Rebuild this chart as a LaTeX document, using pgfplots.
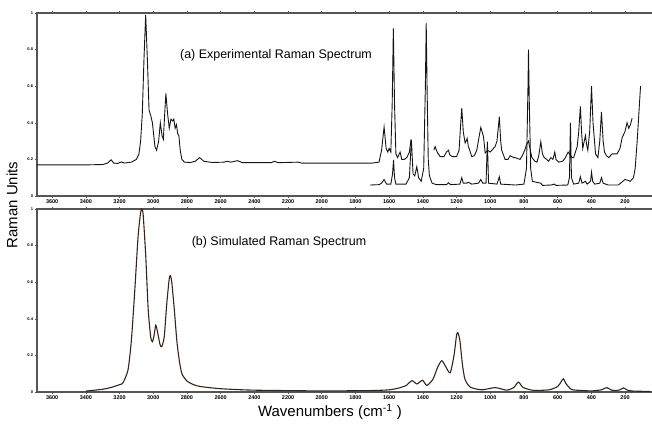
\documentclass[border=0pt]{standalone}
\usepackage{pgfplots}
\pgfplotsset{compat=1.18}
\usepackage{fontspec}
\setmainfont{Liberation Sans}
\definecolor{axgray}{RGB}{85,85,85}
\definecolor{specblack}{RGB}{20,20,20}
\definecolor{simbrown}{RGB}{55,35,25}
\pgfplotsset{
  ramanax/.style={
    scale only axis, width=615bp, height=183bp,
    x dir=reverse, xmin=40, xmax=3690, ymin=0, ymax=1,
    xtick={200,400,...,3600},
    ytick={0,0.2,0.4,0.6,0.8,1},
    yticklabels={0,0.2,0.4,0.6,0.8,1},
    /pgf/number format/assume math mode=true,
    /pgf/number format/set thousands separator={},
    x tick label style={font=\fontsize{5.5}{6}\selectfont\bfseries, yshift=1.5bp},
    y tick label style={font=\fontsize{4}{5}\selectfont\bfseries, xshift=1.5bp},
    tick align=outside, major tick length=2bp,
    tick style={axgray, line width=0.6pt},
    axis line style={draw=none},
    clip=false,
  }
}
\begin{document}
\begin{tikzpicture}
\useasboundingbox (-37bp,-228bp) rectangle (615bp,196bp);
% ---------------- top: experimental ----------------
\begin{axis}[ramanax, at={(0,0)}, anchor=south west]
\draw[axgray, line width=1.4pt] (axis description cs:0,0) -- (axis description cs:0,1) -- (axis description cs:1,1);
\draw[axgray, line width=1.4pt] (axis description cs:0,0) -- (axis description cs:1,0);
\addplot[specblack, line width=0.9pt] coordinates {
(3690,0.17)(3400,0.17)(3300,0.172)(3270,0.18)(3250,0.198)(3235,0.18)(3210,0.178)(3190,0.186)(3170,0.18)(3130,0.185)(3100,0.2)(3085,0.23)(3075,0.3)(3065,0.45)(3055,0.75)(3045,0.99)(3035,0.75)(3025,0.47)(3015,0.44)(3005,0.4)(2990,0.27)(2980,0.25)(2968,0.3)(2958,0.40)(2948,0.33)(2940,0.31)(2932,0.45)(2925,0.56)(2915,0.45)(2905,0.37)(2895,0.42)(2885,0.41)(2878,0.42)(2870,0.37)(2862,0.39)(2855,0.34)(2848,0.33)(2840,0.25)(2830,0.2)(2815,0.185)(2780,0.183)(2750,0.19)(2725,0.21)(2700,0.19)(2650,0.183)(2580,0.185)(2560,0.19)(2540,0.185)(2500,0.193)(2470,0.182)(2300,0.182)(2280,0.19)(2260,0.182)(2140,0.185)(2120,0.18)(1700,0.18)(1660,0.185)(1645,0.25)(1630,0.377)(1618,0.26)(1608,0.24)(1600,0.26)(1590,0.24)(1582,0.5)(1575,0.916)(1568,0.5)(1560,0.23)(1550,0.21)(1535,0.24)(1525,0.2)(1510,0.2)(1495,0.21)(1480,0.24)(1470,0.31)
};
\addplot[specblack, line width=0.9pt] coordinates {
(1335,0.25)(1327,0.27)(1315,0.24)(1297,0.215)(1275,0.215)(1260,0.24)(1248,0.25)(1240,0.225)(1225,0.215)(1200,0.215)(1185,0.25)(1175,0.4)(1169,0.48)(1160,0.35)(1149,0.29)(1143,0.3)(1137,0.315)(1130,0.27)(1125,0.26)(1110,0.215)(1095,0.22)(1080,0.25)(1065,0.33)(1056,0.375)(1048,0.35)(1040,0.325)(1030,0.235)(1015,0.25)(1000,0.24)(991,0.25)(971,0.27)(960,0.3)(946,0.434)(938,0.3)(932,0.25)(912,0.2)(895,0.2)(882,0.22)(860,0.21)(853,0.21)(823,0.2)(810,0.22)(795,0.25)(785,0.28)(773,0.3)(760,0.24)(753,0.21)(735,0.19)(723,0.185)(712,0.22)(700,0.297)(690,0.23)(680,0.21)(665,0.2)(654,0.19)(640,0.21)(628,0.2)(617,0.24)(610,0.2)(594,0.185)(570,0.19)(554,0.21)(538,0.24)(530,0.23)(515,0.21)(505,0.21)(484,0.27)(475,0.35)(465,0.49)(458,0.35)(451,0.26)(442,0.3)(435,0.33)(428,0.28)(421,0.25)(410,0.35)(399,0.60)(390,0.4)(375,0.23)(361,0.21)(350,0.3)(340,0.46)(330,0.3)(322,0.24)(310,0.22)(297,0.21)(277,0.23)(247,0.23)(230,0.26)(217,0.32)(201,0.35)(188,0.40)(178,0.37)(168,0.39)(158,0.425)
};
\addplot[specblack, line width=0.9pt] coordinates {
(1713,0.06)(1660,0.062)(1645,0.07)(1630,0.09)(1615,0.065)(1590,0.065)(1580,0.12)(1574,0.197)(1568,0.1)(1560,0.065)(1500,0.065)(1480,0.1)(1468,0.306)(1458,0.12)(1448,0.11)(1436,0.16)(1425,0.1)(1410,0.08)(1395,0.15)(1385,0.6)(1380,0.944)(1375,0.6)(1368,0.2)(1361,0.11)(1345,0.07)(1320,0.062)(1260,0.062)(1248,0.072)(1235,0.062)(1180,0.065)(1169,0.1)(1160,0.07)(1140,0.07)(1130,0.075)(1110,0.065)(1070,0.07)(1056,0.09)(1045,0.07)(1025,0.07)(1017,0.297)(1010,0.07)(960,0.065)(946,0.105)(938,0.065)(850,0.06)(800,0.065)(785,0.15)(776,0.6)(773,0.80)(768,0.5)(760,0.15)(750,0.08)(700,0.07)(690,0.058)(640,0.06)(620,0.065)(610,0.058)(540,0.06)(530,0.1)(524,0.40)(518,0.1)(505,0.065)(475,0.07)(465,0.105)(455,0.07)(435,0.08)(425,0.065)(405,0.08)(399,0.13)(392,0.08)(380,0.065)(350,0.07)(340,0.10)(330,0.07)(300,0.06)(240,0.06)(220,0.075)(201,0.09)(180,0.085)(170,0.08)(150,0.10)(140,0.15)(128,0.30)(118,0.45)(108,0.60)
};
\end{axis}
% ---------------- bottom: simulated ----------------
\begin{axis}[ramanax, at={(0,-196bp)}, anchor=south west]
\draw[axgray, line width=1.4pt] (axis description cs:0,0) -- (axis description cs:0,1) -- (axis description cs:1,1);
\draw[axgray, line width=1.4pt] (axis description cs:0,0) -- (axis description cs:1,0);
\addplot[simbrown, line width=1.1pt, smooth, tension=0.4] coordinates {
(3400,0.005)(3300,0.015)(3250,0.025)(3200,0.04)(3180,0.05)(3150,0.12)(3130,0.28)(3110,0.55)(3090,0.85)(3075,0.98)(3068,1.0)(3060,0.97)(3045,0.75)(3030,0.45)(3015,0.3)(3005,0.275)(2995,0.31)(2985,0.365)(2975,0.33)(2960,0.26)(2950,0.248)(2935,0.3)(2920,0.48)(2905,0.62)(2898,0.635)(2890,0.6)(2875,0.45)(2860,0.28)(2845,0.17)(2830,0.1)(2800,0.06)(2760,0.04)(2720,0.03)(2600,0.018)(2400,0.01)(2000,0.006)(1700,0.008)(1600,0.012)(1550,0.02)(1500,0.035)(1465,0.062)(1435,0.044)(1402,0.064)(1376,0.036)(1340,0.07)(1310,0.14)(1287,0.171)(1265,0.14)(1238,0.105)(1215,0.2)(1200,0.31)(1192,0.324)(1180,0.28)(1165,0.15)(1150,0.07)(1119,0.027)(1050,0.012)(971,0.024)(902,0.01)(860,0.025)(833,0.054)(805,0.025)(745,0.009)(650,0.012)(600,0.03)(580,0.055)(566,0.072)(550,0.045)(520,0.015)(490,0.01)(400,0.006)(340,0.012)(308,0.024)(280,0.01)(250,0.008)(230,0.012)(209,0.022)(185,0.01)(150,0.005)(50,0.003)
};
\end{axis}
% titles and labels
\node[font=\fontsize{12.5}{15}\selectfont] at (239bp,141bp) {(a) Experimental Raman Spectrum};
\node[font=\fontsize{12.5}{15}\selectfont] at (242bp,-46bp) {(b) Simulated Raman Spectrum};
\node[font=\fontsize{15}{18}\selectfont, rotate=90] at (-25bp,-9bp) {Raman Units};
\node[font=\fontsize{15}{18}\selectfont] at (293bp,-216bp) {Wavenumbers (cm\textsuperscript{-1} )};
\end{tikzpicture}
\end{document}
